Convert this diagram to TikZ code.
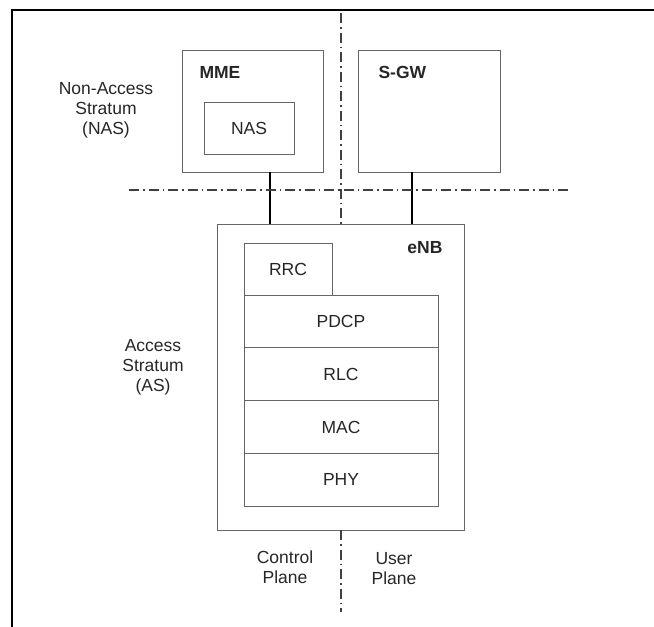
\documentclass[tikz,border=0pt]{standalone}
\usepackage{fontspec}
\setmainfont{Liberation Sans}
\usetikzlibrary{positioning}

\newcommand\txtsize{\fontsize{17.5}{20}\selectfont}

\begin{document}
\begin{tikzpicture}[x=1pt, y=-1pt, every node/.style={font=\txtsize, text=black!85},
 box/.style={draw=black!60, line width=1pt, inner sep=0pt, outer sep=0pt},
 layer/.style={box, minimum width=194pt, minimum height=52.75pt},
 bold/.style={font=\txtsize\bfseries},
 link/.style={line width=2.2pt},
 plane/.style={line width=1.2pt, black!75, dash pattern=on 10pt off 4pt on 1.5pt off 4pt}]
\useasboundingbox (0,0) rectangle (654,627);
\draw[line width=2pt] (12,627) -- (12,9.5) -- (654,9.5);

% core network
\node[box, minimum width=141pt, minimum height=122pt] (mme) at (252.5,111) {};
\node[bold, anchor=west] (mmelabel) at (196,72) {MME};
\node[box, minimum width=90pt, minimum height=52pt] (nas) at (249,128) {NAS};
\node[box, minimum width=142pt, minimum height=122pt] (sgw) at (429,111) {};
\node[bold, anchor=west] (sgwlabel) at (375,72) {S-GW};

% eNB and its layers
\node[box, minimum width=247.5pt, minimum height=306pt] (enb) at (341,377) {};
\node[bold, anchor=east] (enblabel) at (446,248) {eNB};
\node[layer] (pdcp) at (341,321.5) {PDCP};
\node[layer, below=0pt of pdcp] (rlc) {RLC};
\node[layer, below=0pt of rlc] (mac) {MAC};
\node[layer, below=0pt of mac] (phy) {PHY};
\node[box, minimum width=88pt, minimum height=52pt, anchor=south west] (rrc) at (pdcp.north west) {RRC};

% links
\draw[link] ([xshift=17.5pt]mme.south) -- ([xshift=17.5pt]mme.south |- enb.north);
\draw[link] ([xshift=-17pt]sgw.south) -- ([xshift=-17pt]sgw.south |- enb.north);

% plane borders
\coordinate (vtop) at (341,13);
\coordinate (vbot) at (341,612);
\coordinate (hleft) at (129,190);
\coordinate (hright) at (571,190);
\draw[plane] (vtop) -- (enb.north);
\draw[plane] (enb.south) -- (vbot);
\draw[plane] (hleft) -- (hright);

% labels
\node[align=center] (naslabel) at (106,110) {Non-Access\\Stratum\\(NAS)};
\node[align=center] (aslabel) at (153,367) {Access\\Stratum\\(AS)};
\node[align=center] (cplabel) at (285,567) {Control\\Plane};
\node[align=center] (uplabel) at (394,569) {User\\Plane};
\end{tikzpicture}
\end{document}
